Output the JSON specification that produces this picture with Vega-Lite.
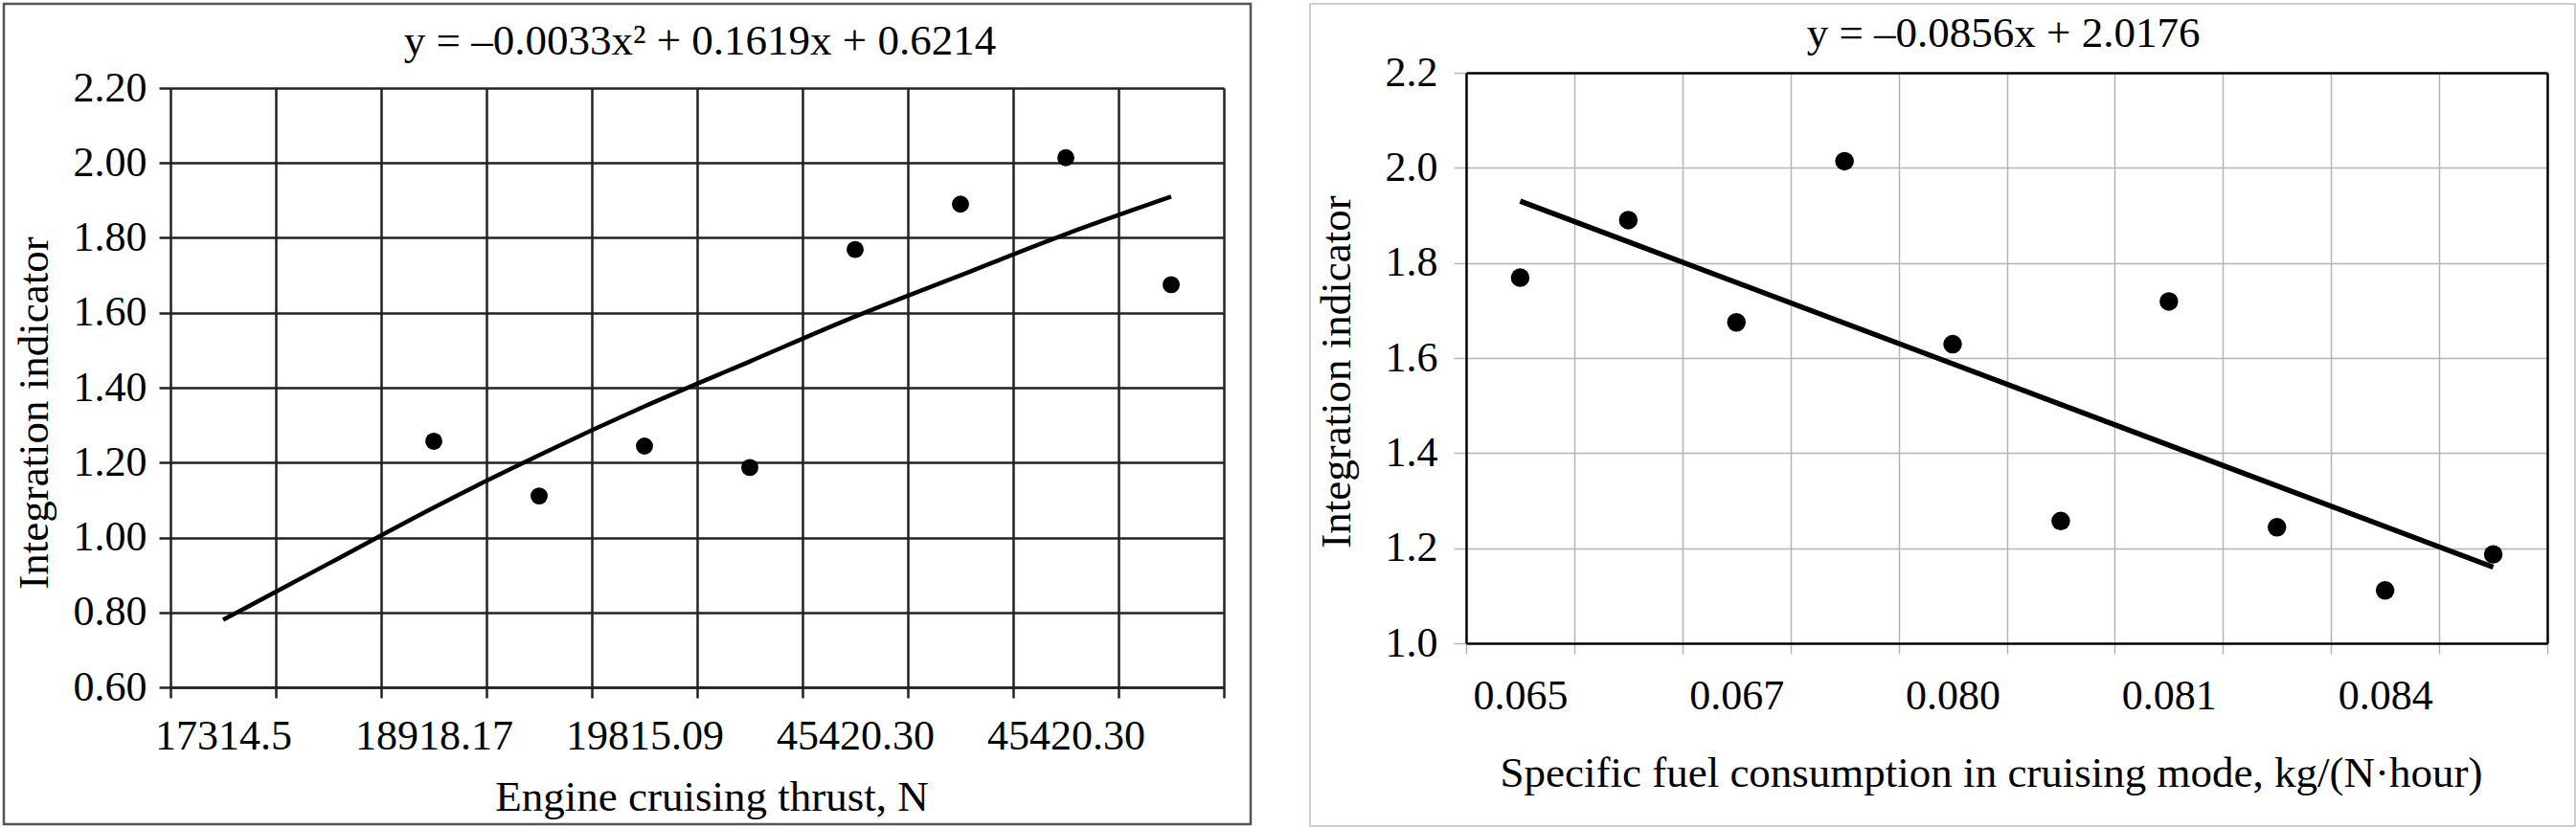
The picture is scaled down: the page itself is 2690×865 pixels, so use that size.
{
  "$schema": "https://vega.github.io/schema/vega-lite/v6.json",
  "padding": {"left": 2, "top": 2, "right": 0, "bottom": 0},
  "background": "white",
  "spacing": 59,
  "config": {
    "font": "Liberation Serif",
    "axis": {
      "labelFont": "Liberation Serif",
      "titleFont": "Liberation Serif",
      "labelFontSize": 44,
      "titleFontSize": 45,
      "labelColor": "#000",
      "titleColor": "#000",
      "titleFontWeight": "normal",
      "labelOverlap": false,
      "labelFlush": false,
      "labelBound": false,
      "minExtent": 0,
      "maxExtent": 400
    },
    "title": {
      "font": "Liberation Serif",
      "fontSize": 45,
      "fontWeight": "normal",
      "color": "#000",
      "anchor": "middle",
      "frame": "group",
      "offset": 0,
      "baseline": "alphabetic"
    }
  },
  "datasets": {
    "thrust": [
      {"n": 1, "value": null, "trend": 0.78},
      {"n": 2, "value": null, "trend": 0.93},
      {"n": 3, "value": 1.257, "trend": 1.08},
      {"n": 4, "value": 1.111, "trend": 1.22},
      {"n": 5, "value": 1.244, "trend": 1.35},
      {"n": 6, "value": 1.187, "trend": 1.47},
      {"n": 7, "value": 1.769, "trend": 1.59},
      {"n": 8, "value": 1.890, "trend": 1.70},
      {"n": 9, "value": 2.014, "trend": 1.81},
      {"n": 10, "value": 1.675, "trend": 1.91}
    ],
    "fuel": [
      {"n": 1, "value": 1.769, "trend": 1.93},
      {"n": 2, "value": 1.890, "trend": null},
      {"n": 3, "value": 1.675, "trend": null},
      {"n": 4, "value": 2.014, "trend": null},
      {"n": 5, "value": 1.629, "trend": null},
      {"n": 6, "value": 1.257, "trend": null},
      {"n": 7, "value": 1.719, "trend": null},
      {"n": 8, "value": 1.244, "trend": null},
      {"n": 9, "value": 1.111, "trend": null},
      {"n": 10, "value": 1.187, "trend": 1.16}
    ]
  },
  "hconcat": [
    {
      "width": 1302,
      "height": 857,
      "view": {"stroke": "#555555", "strokeWidth": 2.5},
      "title": {"text": "y = –0.0033x² + 0.1619x + 0.6214", "dx": 76, "dy": 66},
      "data": {"name": "thrust"},
      "layer": [
        {
          "transform": [{"filter": "datum.trend != null"}],
          "mark": {"type": "line", "color": "#000", "strokeWidth": 4.5, "interpolate": "monotone"},
          "encoding": {
            "x": {
              "field": "n",
              "type": "quantitative",
              "scale": {"domain": [0.5, 10.5], "range": [174, 1274], "nice": false, "zero": false},
              "axis": {
                "values": [0.5, 1.5, 2.5, 3.5, 4.5, 5.5, 6.5, 7.5, 8.5, 9.5, 10.5],
                "orient": "bottom",
                "offset": -143,
                "grid": false,
                "domain": true, "domainColor": "#222222", "domainWidth": 2.5,
                "ticks": true, "tickSize": 11, "tickColor": "#222222", "tickWidth": 2.5,
                "labelExpr": "datum.value == 0.5 ? '17314.5' : datum.value == 2.5 ? '18918.17' : datum.value == 4.5 ? '19815.09' : datum.value == 6.5 ? '45420.30' : datum.value == 8.5 ? '45420.30' : ''",
                "labelOffset": {"condition": {"test": "datum.value > 10", "value": 0}, "value": 55},
                "labelPadding": 18,
                "labelAlign": "center",
                "title": "Engine cruising thrust, N",
                "titleX": 739,
                "titleY": 128,
                "titleBaseline": "alphabetic"
              }
            },
            "y": {
              "field": "trend",
              "type": "quantitative",
              "scale": {"domain": [0.6, 2.2], "range": [714, 88], "nice": false, "zero": false},
              "axis": {
                "values": [0.6, 0.8, 1.0, 1.2, 1.4, 1.6, 1.8, 2.0, 2.2],
                "format": ".2f",
                "orient": "left",
                "offset": -174,
                "grid": true, "gridColor": "#222222", "gridWidth": 2.5, "gridOpacity": 1,
                "domain": true, "domainColor": "#222222", "domainWidth": 2.5,
                "ticks": true, "tickSize": 12, "tickColor": "#222222", "tickWidth": 2.5,
                "labelPadding": 13,
                "title": "Integration indicator",
                "titleY": 427,
                "titlePadding": 18
              }
            }
          }
        },
        {
          "transform": [{"filter": "datum.value != null"}],
          "mark": {"type": "circle", "color": "#000", "size": 320, "opacity": 1},
          "encoding": {
            "x": {
              "field": "n",
              "type": "quantitative",
              "scale": {"domain": [0.5, 10.5], "range": [174, 1274], "nice": false, "zero": false},
              "axis": {
                "values": [1.5, 2.5, 3.5, 4.5, 5.5, 6.5, 7.5, 8.5, 9.5, 10.5],
                "orient": "top",
                "offset": 0,
                "grid": true, "gridColor": "#222222", "gridWidth": 2.5, "gridOpacity": 1,
                "domain": false,
                "ticks": false,
                "labels": false,
                "title": null
              }
            },
            "y": {
              "field": "value",
              "type": "quantitative",
              "scale": {"domain": [0.6, 2.2], "range": [714, 88], "nice": false, "zero": false},
              "axis": {
                "values": [0.6, 0.8, 1.0, 1.2, 1.4, 1.6, 1.8, 2.0, 2.2],
                "format": ".2f",
                "orient": "left",
                "offset": -174,
                "grid": true, "gridColor": "#222222", "gridWidth": 2.5, "gridOpacity": 1,
                "domain": true, "domainColor": "#222222", "domainWidth": 2.5,
                "ticks": true, "tickSize": 12, "tickColor": "#222222", "tickWidth": 2.5,
                "labelPadding": 13,
                "title": "Integration indicator",
                "titleY": 427,
                "titlePadding": 18
              }
            }
          }
        }
      ]
    },
    {
      "width": 1321,
      "height": 859,
      "view": {"stroke": "#bdbdbd", "strokeWidth": 1.5},
      "title": {"text": "y = –0.0856x + 2.0176", "dx": 63.5, "dy": 58},
      "data": {"name": "fuel"},
      "layer": [
        {
          "transform": [{"filter": "datum.trend != null"}],
          "mark": {"type": "line", "color": "#000", "strokeWidth": 5.5},
          "encoding": {
            "x": {
              "field": "n",
              "type": "quantitative",
              "scale": {"domain": [0.5, 10.5], "range": [163, 1292], "nice": false, "zero": false},
              "axis": {
                "values": [0.5, 1.5, 2.5, 3.5, 4.5, 5.5, 6.5, 7.5, 8.5, 9.5, 10.5],
                "orient": "bottom",
                "offset": -191,
                "grid": false,
                "domain": true, "domainColor": "#000", "domainWidth": 2.5,
                "ticks": true, "tickSize": 11, "tickColor": "#b4b4b4", "tickWidth": 1.5,
                "labelExpr": "datum.value == 0.5 ? '0.065' : datum.value == 2.5 ? '0.067' : datum.value == 4.5 ? '0.080' : datum.value == 6.5 ? '0.081' : datum.value == 8.5 ? '0.084' : ''",
                "labelOffset": {"condition": {"test": "datum.value > 10", "value": 0}, "value": 56.45},
                "labelPadding": 22,
                "labelAlign": "center",
                "title": "Specific fuel consumption in cruising mode, kg/(N·hour)",
                "titleX": 711,
                "titleY": 149,
                "titleBaseline": "alphabetic"
              }
            },
            "y": {
              "field": "trend",
              "type": "quantitative",
              "scale": {"domain": [1.0, 2.2], "range": [668, 72], "nice": false, "zero": false},
              "axis": {
                "values": [1.0, 1.2, 1.4, 1.6, 1.8, 2.0, 2.2],
                "format": ".1f",
                "orient": "left",
                "offset": -163,
                "grid": true, "gridColor": "#b4b4b4", "gridWidth": 1.5,
                "gridOpacity": {"condition": {"test": "datum.value > 2.15 || datum.value < 1.05", "value": 0}, "value": 1},
                "domain": true, "domainColor": "#000", "domainWidth": 2.5,
                "ticks": true, "tickSize": 13, "tickColor": "#b4b4b4", "tickWidth": 1.5,
                "labelPadding": 17,
                "title": "Integration indicator",
                "titleY": 384,
                "titlePadding": 27.5
              }
            }
          }
        },
        {
          "transform": [{"filter": "datum.value != null"}],
          "mark": {"type": "circle", "color": "#000", "size": 380, "opacity": 1},
          "encoding": {
            "x": {
              "field": "n",
              "type": "quantitative",
              "scale": {"domain": [0.5, 10.5], "range": [163, 1292], "nice": false, "zero": false},
              "axis": {
                "values": [1.5, 2.5, 3.5, 4.5, 5.5, 6.5, 7.5, 8.5, 9.5],
                "orient": "top",
                "offset": -72,
                "grid": true, "gridColor": "#b4b4b4", "gridWidth": 1.5, "gridOpacity": 1,
                "domain": true, "domainColor": "#000", "domainWidth": 2.5,
                "ticks": false,
                "labels": false,
                "title": null
              }
            },
            "y": {
              "field": "value",
              "type": "quantitative",
              "scale": {"domain": [1.0, 2.2], "range": [668, 72], "nice": false, "zero": false},
              "axis": {
                "orient": "right",
                "offset": -29,
                "grid": false,
                "domain": true, "domainColor": "#000", "domainWidth": 2.5,
                "ticks": false,
                "labels": false,
                "title": null
              }
            }
          }
        }
      ]
    }
  ]
}
